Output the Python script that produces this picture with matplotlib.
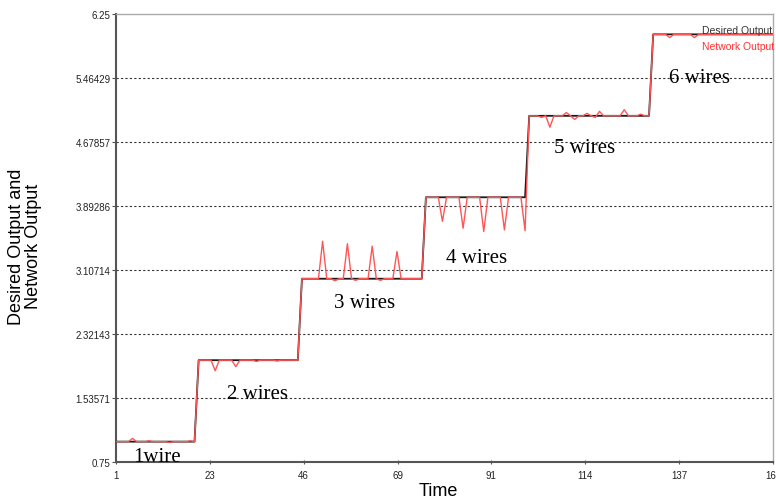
import matplotlib
matplotlib.use("Agg")
import matplotlib.pyplot as plt
import numpy as np

# ---- data ----
levels = [1.0, 2.0, 3.0, 4.0, 5.0, 6.0]
level_lengths = [20, 25, 30, 25, 30, 30]          # samples per level (t = 1..160)
level_labels = ["1wire", "2 wires", "3 wires", "4 wires", "5 wires", "6 wires"]
label_x = [5.1, 27.9, 53.8, 80.8, 107.1, 134.9]
label_y = [0.76, 1.536, 2.653, 3.209, 4.56, 5.41]

# network output deviations from desired output (time, value)
dev_times = [5, 9, 14, 19,
             25, 30, 35, 40,
             51, 54, 57, 59, 63, 65, 69,
             80, 85, 90, 95, 100,
             104, 106, 110, 112, 115, 117, 118, 124, 128,
             135, 141]
dev_values = [1.04, 1.01, 0.99, 1.01,
              1.87, 1.92, 1.985, 1.99,
              3.46, 2.975, 3.43, 2.98, 3.40, 2.98, 3.335,
              3.705, 3.62, 3.58, 3.60, 3.59,
              4.98, 4.86, 5.04, 4.955, 5.03, 4.98, 5.055, 5.075, 5.02,
              5.96, 5.96]

y_ticks = [0.75, 1.53571, 2.32143, 3.10714, 3.89286, 4.67857, 5.46429, 6.25]
y_tick_labels = ["0.75", "1.53571", "2.32143", "3.10714", "3.89286", "4.67857", "5.46429", "6.25"]
x_ticks = [1, 23.714, 46.429, 69.143, 91.857, 114.571, 137.286, 160]
x_tick_labels = ["1", "23", "46", "69", "91", "114", "137", "160"]

# ---- build series ----
desired = np.concatenate([np.full(n, v) for v, n in zip(levels, level_lengths)])
time = np.arange(1, len(desired) + 1)
network = desired.copy()
for t, v in zip(dev_times, dev_values):
    network[t - 1] = v

plt.rcParams['font.family'] = ['Liberation Sans', 'DejaVu Sans']

fig = plt.figure(figsize=(7.76, 5.02), dpi=100)
ax = fig.add_axes([116 / 776, 1 - 463 / 502, (773 - 116) / 776, (463 - 15) / 502])

ax.plot(time, desired, color="#1a1a1a", lw=1.3, label="Desired Output", zorder=3)
ax.plot(time, network, color="#ff5555", lw=1.0, label="Network Output", zorder=4)

ax.set_xlim(1, 160)
ax.set_ylim(0.75, 6.25)
ax.set_yticks(y_ticks)
ax.set_yticklabels(y_tick_labels)
ax.set_xticks(x_ticks)
ax.set_xticklabels(x_tick_labels)

for yv in y_ticks[1:-1]:
    ax.axhline(yv, color="#333333", lw=0.8, ls=(0, (2, 2)), zorder=1)

ax.tick_params(axis='both', labelsize=7, labelcolor="#222222", color="#555555",
               length=3, width=0.8)
ax.tick_params(axis='x', direction='inout', pad=4)
ax.tick_params(axis='y', direction='out', pad=1)

for s in ['left', 'bottom']:
    ax.spines[s].set_color('#555555')
    ax.spines[s].set_linewidth(1.5)
for s in ['top', 'right']:
    ax.spines[s].set_color('#aaaaaa')
    ax.spines[s].set_linewidth(1.0)

for txt, x, y in zip(level_labels, label_x, label_y):
    ax.text(x, y, txt, family=['Liberation Serif', 'DejaVu Serif'], fontsize=15,
            va='baseline', ha='left', color='black', zorder=5)

ax.set_xlabel("Time", fontsize=13, color='black')
ax.xaxis.set_label_coords(0.49, -0.045)
ax.set_ylabel("Desired Output and\nNetwork Output", fontsize=13, color='black',
              linespacing=1.05)
ax.yaxis.set_label_coords(-0.112, 0.483)

leg = ax.legend(loc='upper right', frameon=False, handlelength=0, handletextpad=0,
                fontsize=7.5, labelcolor=['#333333', '#ff3030'],
                bbox_to_anchor=(1.002, 1 - 11 / 448), borderaxespad=0,
                borderpad=0, labelspacing=0.62)
for h in leg.legend_handles:
    h.set_visible(False)

fig.savefig("out.png", dpi=100)
